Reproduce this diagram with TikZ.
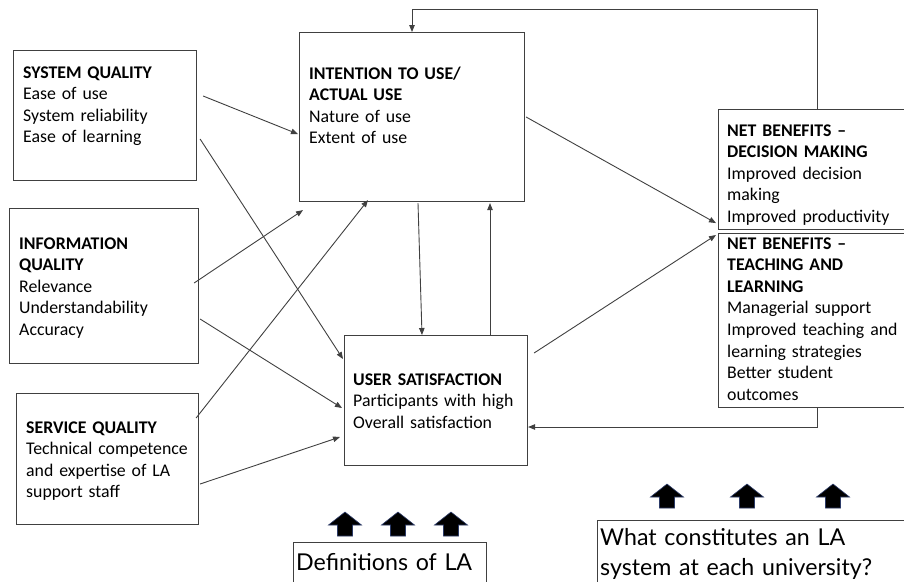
\documentclass[tikz,border=0pt]{standalone}
\usepackage{fontspec}
\setmainfont{Carlito}
\newfontfamily\notefont{Lato}
\usepackage{xcolor}
\definecolor{ink}{HTML}{404040}
\definecolor{navy}{HTML}{2B3A67}
\usetikzlibrary{arrows.meta,positioning,calc}
\tikzset{
  >={Triangle[length=7pt,width=5.5pt]},
  box/.style={draw=ink,line width=1.1pt,inner sep=0pt,anchor=north west},
  txt/.style={anchor=base west,inner sep=0pt,align=left,text width=178pt,font=\fontsize{17.8}{21.6}\selectfont},
  note/.style={anchor=base west,inner sep=0pt,align=left,text width=300pt,font=\notefont\fontsize{23.2}{30.5}\selectfont},
  arr/.style={->,draw=ink,line width=0.9pt},
  blk/.style={draw=navy,fill=black,line width=0.6pt,line join=miter},
}
\begin{document}
\begin{tikzpicture}[x=1pt,y=-1pt]
\clip (0,0) rectangle (904,581);
% boxes
\node[box,minimum width=183pt,minimum height=130pt] (sysq) at (13,50) {};
\node[box,minimum width=189pt,minimum height=155pt] (infoq) at (9,208) {};
\node[box,minimum width=182pt,minimum height=131pt] (servq) at (16,393) {};
\node[box,minimum width=225pt,minimum height=169pt] (intent) at (299,32) {};
\node[box,minimum width=183pt,minimum height=130pt] (usat) at (344,335) {};
\node[box,minimum width=190pt,minimum height=120pt] (netdm) at (718,109) {};
\node[box,minimum width=190pt,minimum height=174pt] (nettl) at (718,233) {};
\node[box,minimum width=193pt,minimum height=60pt] (defs) at (293,542) {};
\node[box,minimum width=320pt,minimum height=80pt] (quest) at (597,520) {};
% texts
\node[txt] (sysq-t) at ([shift={(10,28)}]sysq.north west)
  {\textbf{SYSTEM QUALITY}\\Ease of use\\System reliability\\Ease of learning};
\node[txt] (infoq-t) at ([shift={(10,41)}]infoq.north west)
  {\textbf{INFORMATION}\\\textbf{QUALITY}\\Relevance\\Understandability\\Accuracy};
\node[txt] (servq-t) at ([shift={(10,40)}]servq.north west)
  {\textbf{SERVICE QUALITY}\\Technical competence\\and expertise of LA\\support staff};
\node[txt] (intent-t) at ([shift={(10,47)}]intent.north west)
  {\textbf{INTENTION TO USE/}\\\textbf{ACTUAL USE}\\Nature of use\\Extent of use};
\node[txt] (usat-t) at ([shift={(9,50)}]usat.north west)
  {\textbf{USER SATISFACTION}\\Participants with high\\Overall satisfaction};
\node[txt] (netdm-t) at ([shift={(9,27)}]netdm.north west)
  {\textbf{NET BENEFITS --}\\\textbf{DECISION MAKING}\\Improved decision\\making\\Improved productivity};
\node[txt] (nettl-t) at ([shift={(9,16)}]nettl.north west)
  {\textbf{NET BENEFITS --}\\\textbf{TEACHING AND}\\\textbf{LEARNING}\\Managerial support\\Improved teaching and\\learning strategies\\Better student\\outcomes};
\node[note] (defs-t) at ([shift={(3,28)}]defs.north west) {Definitions of LA};
\node[note] (quest-t) at ([shift={(3,25)}]quest.north west)
  {What constitutes an LA\\system at each university?};
% connectors
\draw[arr] ([shift={(6,46)}]sysq.north east) -- ([shift={(-1,17)}]intent.west);
\draw[arr] ([shift={(3,89)}]sysq.north east) -- ([shift={(-1,24)}]usat.north west);
\draw[arr] ([shift={(-5,75)}]infoq.north east) -- ([shift={(4,8)}]intent.south west);
\draw[arr] ([shift={(1,111)}]infoq.north east) -- ([shift={(-2,73)}]usat.north west);
\draw[arr] ([shift={(-3,25)}]servq.north east) -- ([shift={(69,-2)}]intent.south west);
\draw[arr] ([shift={(1,91)}]servq.north east) -- ([shift={(-4,102)}]usat.north west);
\draw[arr] ([shift={(119,1)}]intent.south west) -- ([shift={(78,0)}]usat.north west);
\draw[arr] ([shift={(146,0)}]usat.north west) -- ([shift={(191,1)}]intent.south west);
\draw[arr] ([shift={(1,85)}]intent.north east) -- ([shift={(-2,-7)}]netdm.south west);
\draw[arr] ([shift={(6,18)}]usat.north east) -- ([shift={(-2,2)}]nettl.north west);
\draw[arr] ([shift={(99,0)}]netdm.north west) -- ++(0,-100) -| ([shift={(113,0)}]intent.north west);
\draw[arr] ([shift={(99,0)}]nettl.south west) |- ([shift={(0,92)}]usat.north east);
% block arrows
\foreach \x/\y in {345/512,398/512,451/512,667/484,747/484,833/484}
  \filldraw[blk] (\x,\y) -- ++(16.5,13) -- ++(-9,0) -- ++(0,11) -- ++(-15,0)
    -- ++(0,-11) -- ++(-9,0) -- cycle;
\end{tikzpicture}
\end{document}
